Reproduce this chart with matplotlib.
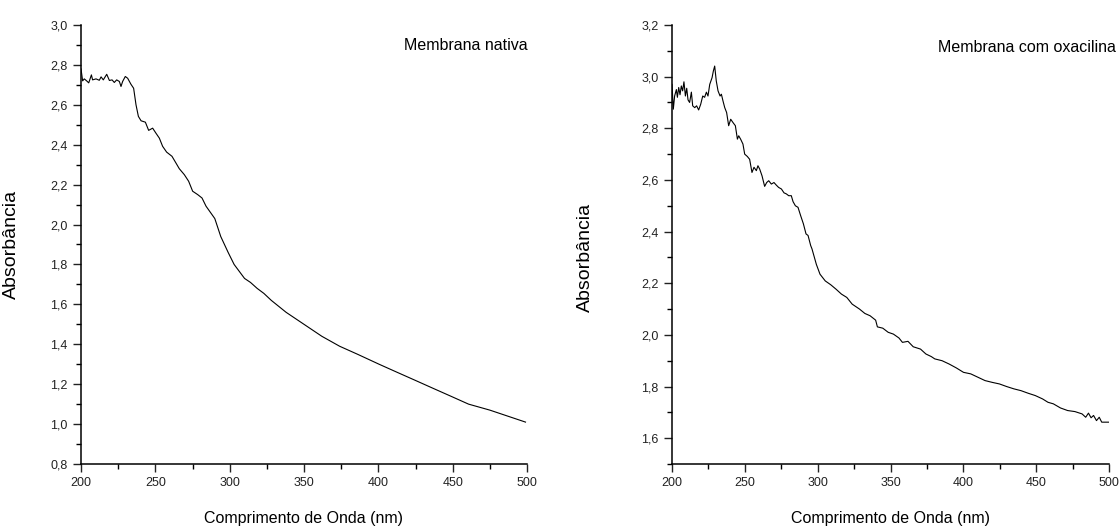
import matplotlib
matplotlib.use("Agg")
import matplotlib.pyplot as plt
from matplotlib.ticker import MultipleLocator, FuncFormatter

plt.rcParams['font.family'] = ['Liberation Sans Narrow', 'Liberation Sans', 'DejaVu Sans']

# Membrana nativa: comprimento de onda (nm) e absorbancia
nativa_nm = [200, 201.1, 202.2, 203.8, 205.2, 207, 207.8, 210.1, 212.3, 213.5,
             215, 217.3, 219.1, 220.9, 222.4, 224, 225.8, 226.9, 228, 229.8,
             231.4, 233.6, 235.4, 237, 238.6, 240.4, 243.3, 245.5, 248.2, 250.4,
             252.7, 254.9, 257.6, 261.2, 263.9, 266.1, 269.5, 272.4, 275.1, 278.5,
             281.4, 284.1, 290, 294, 299, 303, 306, 310, 314, 318.5,
             323, 328, 338, 350, 362, 374, 386, 400.5, 412.5, 424.6,
             436.6, 448.7, 460.7, 475, 487, 499]
nativa_abs = [2.78, 2.72, 2.73, 2.72, 2.71, 2.75, 2.725, 2.73, 2.723, 2.74,
              2.725, 2.753, 2.722, 2.725, 2.712, 2.725, 2.717, 2.692, 2.717, 2.742,
              2.733, 2.703, 2.683, 2.60, 2.542, 2.52, 2.513, 2.472, 2.483, 2.458,
              2.433, 2.392, 2.363, 2.342, 2.308, 2.28, 2.25, 2.217, 2.167, 2.15,
              2.133, 2.092, 2.03, 1.94, 1.86, 1.80, 1.77, 1.73, 1.71, 1.68,
              1.655, 1.62, 1.56, 1.50, 1.44, 1.39, 1.35, 1.30, 1.26, 1.22,
              1.18, 1.14, 1.10, 1.07, 1.04, 1.01]

# Membrana com oxacilina
oxa_nm = [200, 200.9, 201.8, 203, 203.7, 204.6, 205.5, 206.4, 207.3, 208.2,
          209.2, 210.1, 211, 212.1, 213.3, 214.2, 215.6, 216.9, 218.3, 219.7,
          221.1, 222.4, 223.6, 224.7, 225.9, 227.5, 228.4, 229.3, 230.4, 231.6,
          233, 233.9, 235, 236.2, 237.5, 238.9, 240.3, 241.9, 243.5, 244.9,
          245.8, 247.1, 248.7, 249.9, 251.7, 253.3, 254.9, 256.3, 257.9, 259,
          260.2, 261.8, 263.6, 265, 266.4, 268.2, 270, 271.6, 273.2, 275.1,
          276.9, 278.5, 280.1, 281.9, 283.1, 284.7, 286.5, 288.3, 290.2, 292,
          293.4, 295.2, 296.1, 299.1, 301.6, 305.2, 309, 312.6, 316.3, 320,
          323.7, 328.7, 332.4, 336, 339.8, 341, 344.7, 348.4, 352, 355.8,
          358.2, 362, 365.6, 370.6, 374.3, 378, 380.4, 385.4, 390.3, 395.2,
          400.1, 405.1, 410, 414.9, 419.9, 424.8, 429.7, 434.7, 439.6, 444.5,
          449.4, 454.4, 458.1, 461.8, 466.7, 471.6, 476.6, 481.5, 484, 485.9,
          487.7, 489.4, 491.4, 493.3, 495, 500]
oxa_abs = [2.97, 2.874, 2.925, 2.95, 2.92, 2.958, 2.93, 2.964, 2.945, 2.98,
           2.925, 2.955, 2.91, 2.90, 2.94, 2.887, 2.88, 2.887, 2.871, 2.893,
           2.925, 2.92, 2.94, 2.925, 2.97, 2.996, 3.022, 3.041, 2.983, 2.945,
           2.925, 2.932, 2.906, 2.88, 2.861, 2.81, 2.835, 2.822, 2.81, 2.758,
           2.771, 2.758, 2.739, 2.70, 2.691, 2.68, 2.629, 2.649, 2.636, 2.655,
           2.642, 2.616, 2.575, 2.59, 2.597, 2.584, 2.59, 2.58, 2.571, 2.565,
           2.55, 2.546, 2.539, 2.539, 2.516, 2.50, 2.494, 2.462, 2.43, 2.391,
           2.385, 2.346, 2.333, 2.273, 2.235, 2.209, 2.194, 2.177, 2.158, 2.145,
           2.119, 2.10, 2.083, 2.074, 2.057, 2.031, 2.026, 2.01, 2.003, 1.988,
           1.971, 1.975, 1.954, 1.945, 1.926, 1.916, 1.907, 1.90, 1.887, 1.872,
           1.855, 1.849, 1.836, 1.823, 1.816, 1.81, 1.80, 1.791, 1.784, 1.774,
           1.765, 1.752, 1.739, 1.733, 1.717, 1.707, 1.703, 1.694, 1.681, 1.697,
           1.679, 1.688, 1.668, 1.681, 1.662, 1.662]

panels = [
    dict(x=nativa_nm, y=nativa_abs, label="Membrana nativa", ylim=(0.8, 3.0),
         rect=[81 / 1120, 66 / 530, 446 / 1120, 439 / 530],
         text_xy=(466, 45), ylab_x=-0.137, ylab_y=0.5),
    dict(x=oxa_nm, y=oxa_abs, label="Membrana com oxacilina", ylim=(1.5, 3.2),
         rect=[672 / 1120, 66 / 530, 437 / 1120, 439 / 530],
         text_xy=(1027, 48), ylab_x=-0.178, ylab_y=0.47),
]

comma = FuncFormatter(lambda v, pos: f"{v:.1f}".replace(".", ","))

fig = plt.figure(figsize=(11.2, 5.3), dpi=100)
for p in panels:
    ax = fig.add_axes(p["rect"])
    ax.plot(p["x"], p["y"], color="black", linewidth=0.8)
    ax.set_xlim(200, 500)
    ax.set_ylim(*p["ylim"])
    ax.xaxis.set_major_locator(MultipleLocator(50))
    ax.xaxis.set_minor_locator(MultipleLocator(25))
    ax.yaxis.set_major_locator(MultipleLocator(0.2))
    ax.yaxis.set_minor_locator(MultipleLocator(0.1))
    ax.yaxis.set_major_formatter(comma)
    for s in ["top", "right"]:
        ax.spines[s].set_visible(False)
    for s in ["left", "bottom"]:
        ax.spines[s].set_linewidth(1.1)
    ax.tick_params(which="major", length=6, width=1.0, labelsize=9, pad=3.5,
                   colors="#222222")
    ax.tick_params(which="minor", length=3.5, width=1.0)
    ax.set_xlabel("Comprimento de Onda (nm)", fontsize=11.5, labelpad=16)
    ax.set_ylabel("Absorbância", fontsize=14)
    ax.yaxis.set_label_coords(p["ylab_x"], p["ylab_y"])
    fig.text(p["text_xy"][0] / 1120, 1 - p["text_xy"][1] / 530, p["label"],
             ha="center", va="center", fontsize=11.5)

fig.savefig("out.png", dpi=100)
